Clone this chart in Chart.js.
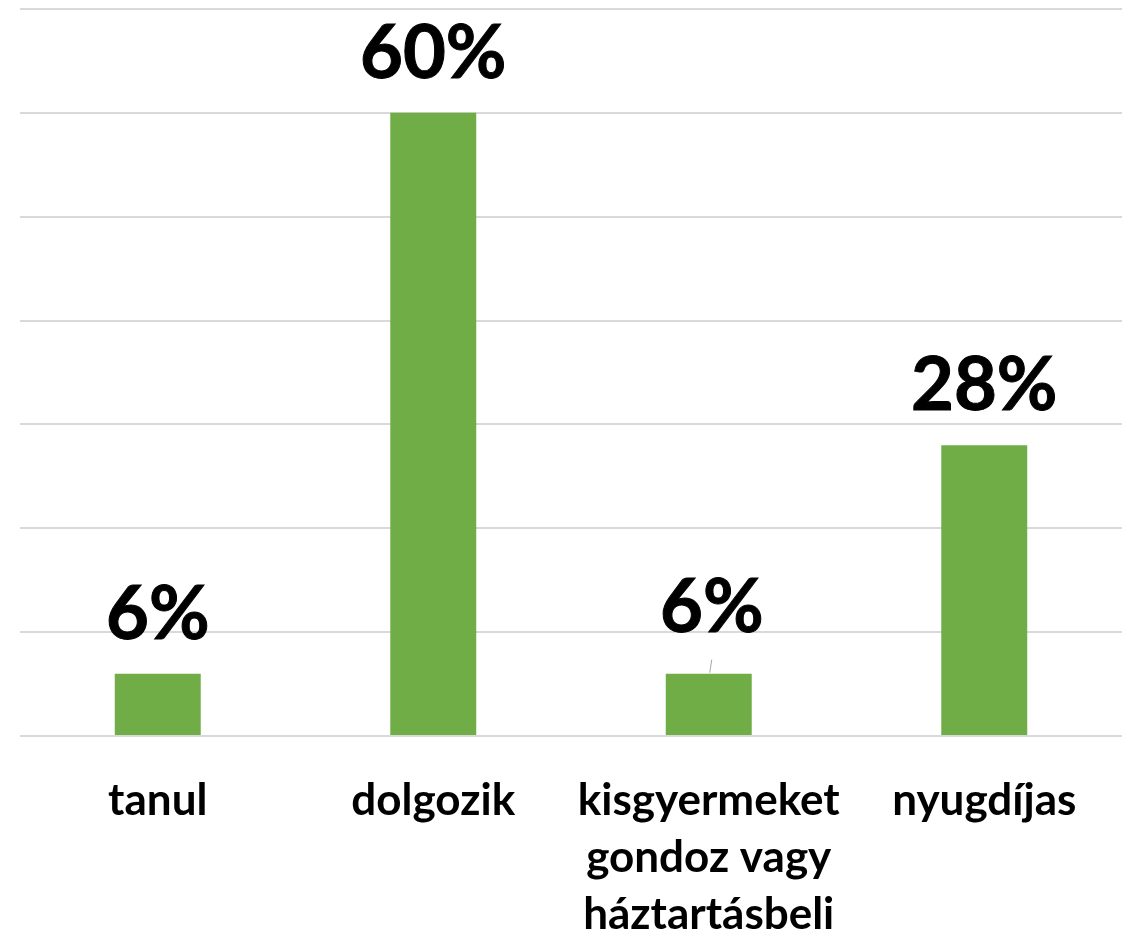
<!DOCTYPE html>
<html>
<head>
<meta charset="utf-8">
<script src="https://cdn.jsdelivr.net/npm/chart.js@4/dist/chart.umd.min.js"></script>
<style>
  html, body { margin: 0; padding: 0; background: #fff; }
  #wrap { width: 1133px; height: 936px; position: relative; }
</style>
</head>
<body>
<div id="wrap"><canvas id="chart"></canvas></div>
<script>
const categories = [
  ["tanul"],
  ["dolgozik"],
  ["kisgyermeket", "gondoz vagy", "háztartásbeli"],
  ["nyugdíjas"]
];
const shares = [6, 60, 6, 28];
const valueLabels = ["6%", "60%", "6%", "28%"];

const FONT = "Lato, 'Open Sans', sans-serif";

// draws the big percent labels above the bars
const barLabels = {
  id: "barLabels",
  afterDatasetsDraw(chart) {
    const ctx = chart.ctx;
    const meta = chart.getDatasetMeta(0);
    ctx.save();
    ctx.font = "bold 74px " + FONT;
    ctx.fillStyle = "#000";
    ctx.strokeStyle = "#000";
    ctx.lineWidth = 1;
    ctx.textAlign = "center";
    ctx.textBaseline = "alphabetic";
    meta.data.forEach((bar, i) => {
      let lift = 35;
      let dx = 0;
      if (i === 2) {
        lift = 42;
        dx = 3;
        // small leader line
        ctx.save();
        ctx.strokeStyle = "#a6a6a6";
        ctx.beginPath();
        ctx.moveTo(bar.x + 3, bar.y - 14);
        ctx.lineTo(bar.x + 1, bar.y - 1);
        ctx.stroke();
        ctx.restore();
      }
      ctx.fillText(valueLabels[i], bar.x + dx, bar.y - lift);
      ctx.strokeText(valueLabels[i], bar.x + dx, bar.y - lift);
    });
    ctx.restore();
  }
};

new Chart(document.getElementById("chart"), {
  type: "bar",
  data: {
    labels: categories,
    datasets: [{
      data: shares,
      backgroundColor: "#70AD47",
      categoryPercentage: 1,
      barPercentage: 0.312
    }]
  },
  options: {
    responsive: true,
    maintainAspectRatio: false,
    animation: false,
    layout: { padding: { left: 20, right: 11, top: 9, bottom: 0 } },
    plugins: {
      legend: { display: false },
      tooltip: { enabled: false }
    },
    scales: {
      x: {
        grid: { display: false },
        border: { display: false },
        ticks: {
          color: "#000",
          font: { family: FONT, size: 44, weight: "bold", lineHeight: 1.3 },
          padding: 28,
          maxRotation: 0,
          autoSkip: false
        },
        afterFit(scale) { scale.height = 200; }
      },
      y: {
        min: 0,
        max: 70,
        ticks: { display: false, stepSize: 10 },
        border: { display: false },
        grid: { color: "#d9d9d9", lineWidth: 2, drawTicks: false },
        afterFit(scale) { scale.width = 0; }
      }
    }
  },
  plugins: [barLabels]
});
</script>
</body>
</html>
